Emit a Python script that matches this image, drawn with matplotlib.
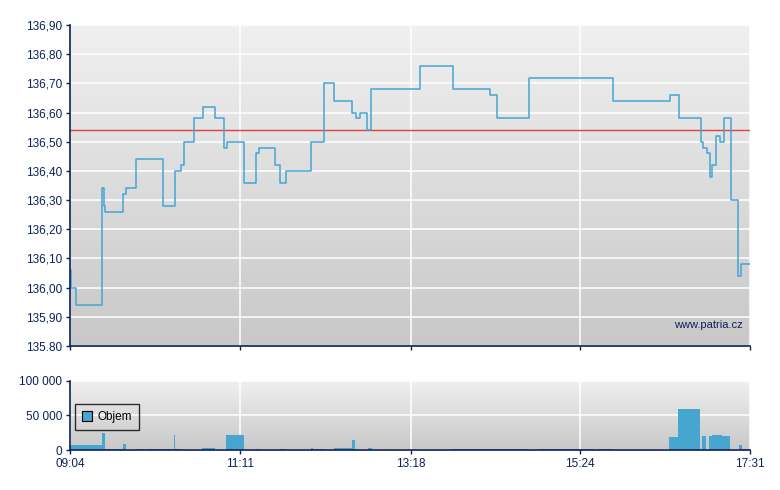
import matplotlib
matplotlib.use('Agg')
import matplotlib.pyplot as plt
import numpy as np
from matplotlib.colors import LinearSegmentedColormap

# price steps (time, price)
price_times = ["09:04:00", "09:04:30", "09:08:15", "09:27:55", "09:29:10", "09:29:55",
               "09:43:25", "09:45:50", "09:53:20", "10:13:15", "10:21:55", "10:26:40",
               "10:28:40", "10:36:40", "10:43:05", "10:51:50", "10:58:50", "11:01:05",
               "11:13:45", "11:22:25", "11:25:10", "11:36:55", "11:40:40", "11:45:20",
               "12:04:00", "12:13:30", "12:21:00", "12:34:25", "12:37:05", "12:39:55",
               "12:45:35", "12:48:20", "13:25:15", "13:49:55", "14:17:30", "14:22:10",
               "14:46:25", "15:48:40", "16:31:40", "16:37:55", "16:54:35", "16:56:05",
               "16:59:05", "17:00:50", "17:03:00", "17:06:00", "17:09:00", "17:11:35",
               "17:16:50", "17:22:00", "17:24:20", "17:31:00"]
prices = [136.06, 136.00, 135.94, 136.34, 136.28, 136.26,
          136.32, 136.34, 136.44, 136.28, 136.40, 136.42,
          136.50, 136.58, 136.62, 136.58, 136.48, 136.50,
          136.36, 136.46, 136.48, 136.42, 136.36, 136.40,
          136.50, 136.70, 136.64, 136.60, 136.58, 136.60,
          136.54, 136.68, 136.76, 136.68, 136.66, 136.58,
          136.72, 136.64, 136.66, 136.58, 136.50, 136.48,
          136.46, 136.38, 136.42, 136.52, 136.50, 136.58,
          136.30, 136.04, 136.08, 136.08]
prev_close = 136.54

# volume bars (start, end, volume)
vol_start = ["09:04:00", "09:27:55", "09:29:55", "09:43:25", "09:53:20", "10:01:30",
             "10:21:25", "10:22:10", "10:42:35", "11:00:30", "11:22:05", "11:40:40",
             "12:04:00", "12:05:30", "12:21:10", "12:34:35", "12:36:50", "12:45:50",
             "13:48:50", "14:07:30", "14:53:40", "15:38:25", "16:30:35", "16:37:20",
             "16:53:40", "16:55:10", "17:00:25", "17:02:55", "17:10:10", "17:22:55",
             "17:25:10"]
vol_end = ["09:27:55", "09:29:55", "09:43:25", "09:45:50", "10:00:10", "10:21:10",
           "10:22:10", "10:26:25", "10:52:05", "11:14:00", "11:24:55", "11:44:55",
           "12:05:30", "12:13:40", "12:34:35", "12:36:50", "12:38:55", "12:48:50",
           "14:06:40", "14:45:30", "15:34:40", "15:48:05", "16:37:20", "16:53:40",
           "16:55:10", "16:58:10", "17:02:55", "17:10:10", "17:16:05", "17:25:10",
           "17:31:00"]
volumes = [7500, 24000, 1500, 8700, 1500, 1500,
           22000, 1500, 3000, 21500, 1500, 1500,
           3000, 1500, 3000, 14500, 1500, 3000,
           1500, 1500, 1500, 1500, 19000, 59000,
           1500, 20000, 20000, 21500, 20000, 7000,
           1500]

x_ticks = ["09:04", "11:11", "13:18", "15:24", "17:31"]
price_ticks = [135.80, 135.90, 136.00, 136.10, 136.20, 136.30, 136.40,
               136.50, 136.60, 136.70, 136.80, 136.90]
price_labels = ["135.80", "135,90", "136,00", "136,10", "136,20", "136,30",
                "136,40", "136,50", "136,60", "136,70", "136,80", "136,90"]
vol_ticks = [0, 50000, 100000]
vol_labels = ["0", "50 000", "100 000"]


def to_min(s):
    parts = [int(p) for p in s.split(":")]
    while len(parts) < 3:
        parts.append(0)
    return parts[0] * 60 + parts[1] + parts[2] / 60.0


navy = "#0b2157"
line_col = "#45a5d2"
plt.rcParams['font.family'] = ['Liberation Sans', 'DejaVu Sans']
plt.rcParams['font.size'] = 8

fig = plt.figure(figsize=(7.8, 4.9), dpi=100)
ax = fig.add_axes([70 / 780, 1 - 346 / 490, 680 / 780, 321 / 490])
axv = fig.add_axes([70 / 780, 1 - 450 / 490, 680 / 780, 69.5 / 490])

tx = [to_min(t) for t in x_ticks]
xmin, xmax = tx[0], tx[-1]


def background(a, top, bottom):
    grad = np.linspace(0, 1, 256).reshape(-1, 1)
    cmap = LinearSegmentedColormap.from_list("bg", [top, bottom])
    a.imshow(grad, aspect='auto', cmap=cmap, extent=[0, 1, 0, 1],
             transform=a.transAxes, zorder=0)


for a in (ax, axv):
    background(a, "#f0f0f0", "#c8c8c8")
    a.set_xlim(xmin, xmax)
    a.set_xticks(tx)
    a.grid(True, color="white", linewidth=1.1, zorder=1)
    a.set_axisbelow(False)
    for side in ("top", "right"):
        a.spines[side].set_visible(False)
    for side in ("left", "bottom"):
        a.spines[side].set_color(navy)
        a.spines[side].set_linewidth(1.2)
        a.spines[side].set_zorder(5)
    a.tick_params(colors=navy, labelcolor=navy, length=3, width=1,
                  pad=2.5, labelsize=8.5)

# price panel
px = [to_min(t) for t in price_times]
ax.step(px, prices, where='post', color=line_col, linewidth=1.1, zorder=4)
ax.axhline(prev_close, color="#e04040", linewidth=1.0, zorder=3)
ax.set_ylim(135.80, 136.90)
ax.set_yticks(price_ticks)
ax.set_yticklabels(price_labels)
ax.set_xticklabels([])
ax.text(0.99, 0.065, "www.patria.cz", transform=ax.transAxes, ha='right',
        va='center', color=navy, fontsize=8, zorder=6)

# volume panel
vs = np.array([to_min(t) for t in vol_start])
ve = np.array([to_min(t) for t in vol_end])
axv.bar(vs, volumes, width=ve - vs, align='edge', color="#47a6d0",
        linewidth=0, zorder=4, label="Objem")
axv.set_ylim(0, 100000)
axv.set_yticks(vol_ticks)
axv.set_yticklabels(vol_labels)
axv.set_xticklabels(x_ticks)
leg = axv.legend(loc='upper left', bbox_to_anchor=(0.0, 0.73), frameon=True,
                 fancybox=False, handlelength=0.9, handleheight=0.9,
                 handletextpad=0.4, borderpad=0.6, borderaxespad=0.4,
                 fontsize=8.5)
leg.get_frame().set_facecolor('none')
leg.get_frame().set_edgecolor('black')
leg.get_frame().set_linewidth(1.0)
for h in leg.legend_handles:
    h.set_edgecolor('black')
    h.set_linewidth(0.8)
leg.set_zorder(6)

fig.savefig("out.png", dpi=100)
